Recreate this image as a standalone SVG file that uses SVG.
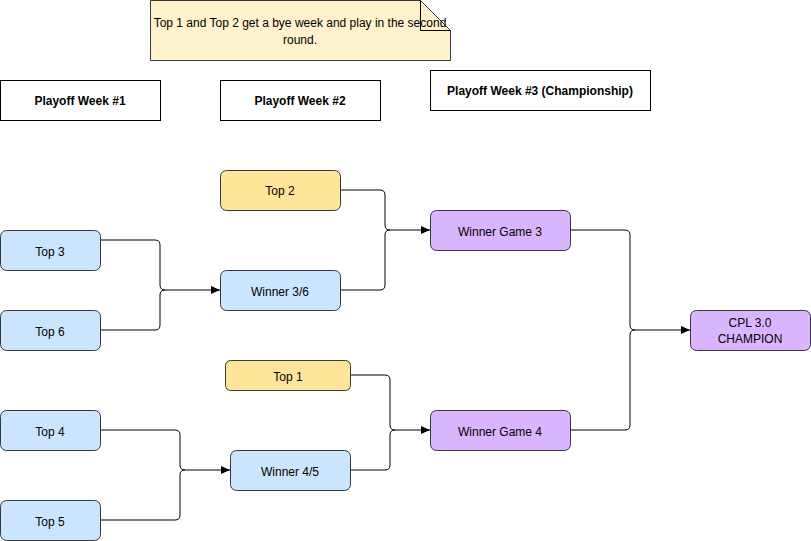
<svg xmlns="http://www.w3.org/2000/svg" width="811" height="541" viewBox="0 0 811 541">
<defs>
<marker id="arrow" markerWidth="10" markerHeight="8" refX="9" refY="4" orient="auto" markerUnits="userSpaceOnUse">
<path d="M0,0 L9,4 L0,8 Z" fill="#000"/>
</marker>
<style>
.t{font-family:"Liberation Sans",Arial,sans-serif;font-size:12px;fill:#000;text-anchor:middle;}
.b{font-weight:bold;}
.hdr{fill:#fff;stroke:#000;stroke-width:1;}
.blue{fill:#cce5ff;stroke:#36393d;stroke-width:1;}
.yel{fill:#ffe599;stroke:#36393d;stroke-width:1;}
.pur{fill:#dab5ff;stroke:#36393d;stroke-width:1;}
.note{fill:#fff2cc;stroke:#36393d;stroke-width:1;}
.c{fill:none;stroke:#000;stroke-width:1;}
</style>
</defs>
<rect width="811" height="541" fill="#fff"/>
<g id="connectors">
<path class="c" d="M100,240 H155 Q160,240 160,245 V285 Q160,290 165,290 H220" marker-end="url(#arrow)"/>
<path class="c" d="M100,330 H155 Q160,330 160,325 V295 Q160,290 165,290"/>
<path class="c" d="M340,190 H380 Q385,190 385,195 V225 Q385,230 390,230 H430" marker-end="url(#arrow)"/>
<path class="c" d="M340,290 H380 Q385,290 385,285 V235 Q385,230 390,230"/>
<path class="c" d="M350,375 H385 Q390,375 390,380 V425 Q390,430 395,430 H430" marker-end="url(#arrow)"/>
<path class="c" d="M350,470 H385 Q390,470 390,465 V435 Q390,430 395,430"/>
<path class="c" d="M100,430 H175 Q180,430 180,435 V465 Q180,470 185,470 H230" marker-end="url(#arrow)"/>
<path class="c" d="M100,520 H175 Q180,520 180,515 V475 Q180,470 185,470"/>
<path class="c" d="M570,230 H625 Q630,230 630,235 V325 Q630,330 635,330 H690" marker-end="url(#arrow)"/>
<path class="c" d="M570,430 H625 Q630,430 630,425 V335 Q630,330 635,330"/>
</g>
<g id="note">
<path class="note" d="M150.5,0.5 H420.5 L450.5,30.5 V60.5 H150.5 Z"/>
<path class="c" d="M420.5,0.5 V30.5 H450.5" stroke="#36393d"/>
<text class="t" x="300" y="27">Top 1 and Top 2 get a bye week and play in the second</text>
<text class="t" x="300" y="44">round.</text>
</g>
<g id="week1">
<rect class="hdr" x="0.5" y="80.5" width="160" height="40"/>
<text class="t b" x="80" y="104.5">Playoff Week #1</text>
</g>
<g id="week2">
<rect class="hdr" x="220.5" y="80.5" width="160" height="40"/>
<text class="t b" x="300" y="104.5">Playoff Week #2</text>
</g>
<g id="week3">
<rect class="hdr" x="430.5" y="70.5" width="220" height="40"/>
<text class="t b" x="540" y="94.5">Playoff Week #3 (Championship)</text>
</g>
<g id="top2">
<rect class="yel" x="220.5" y="170.5" width="120" height="40" rx="6"/>
<text class="t" x="280" y="194.5">Top 2</text>
</g>
<g id="top3">
<rect class="blue" x="0.5" y="230.5" width="100" height="40" rx="6"/>
<text class="t" x="50" y="256">Top 3</text>
</g>
<g id="top6">
<rect class="blue" x="0.5" y="310.5" width="100" height="40" rx="6"/>
<text class="t" x="50" y="336">Top 6</text>
</g>
<g id="winner36">
<rect class="blue" x="220.5" y="270.5" width="120" height="40" rx="6"/>
<text class="t" x="280" y="296">Winner 3/6</text>
</g>
<g id="game3">
<rect class="pur" x="430.5" y="210.5" width="140" height="40" rx="6"/>
<text class="t" x="500" y="236">Winner Game 3</text>
</g>
<g id="champion">
<rect class="pur" x="690.5" y="310.5" width="120" height="40" rx="6"/>
<text class="t" x="750" y="327">CPL 3.0</text>
<text class="t" x="750" y="343">CHAMPION</text>
</g>
<g id="top1">
<rect class="yel" x="225.5" y="360.5" width="125" height="30" rx="5"/>
<text class="t" x="288" y="381">Top 1</text>
</g>
<g id="game4">
<rect class="pur" x="430.5" y="410.5" width="140" height="40" rx="6"/>
<text class="t" x="500" y="436">Winner Game 4</text>
</g>
<g id="winner45">
<rect class="blue" x="230.5" y="450.5" width="120" height="40" rx="6"/>
<text class="t" x="290" y="476">Winner 4/5</text>
</g>
<g id="top4">
<rect class="blue" x="0.5" y="410.5" width="100" height="40" rx="6"/>
<text class="t" x="50" y="436">Top 4</text>
</g>
<g id="top5">
<rect class="blue" x="0.5" y="500.5" width="100" height="40" rx="6"/>
<text class="t" x="50" y="526">Top 5</text>
</g>
</svg>
